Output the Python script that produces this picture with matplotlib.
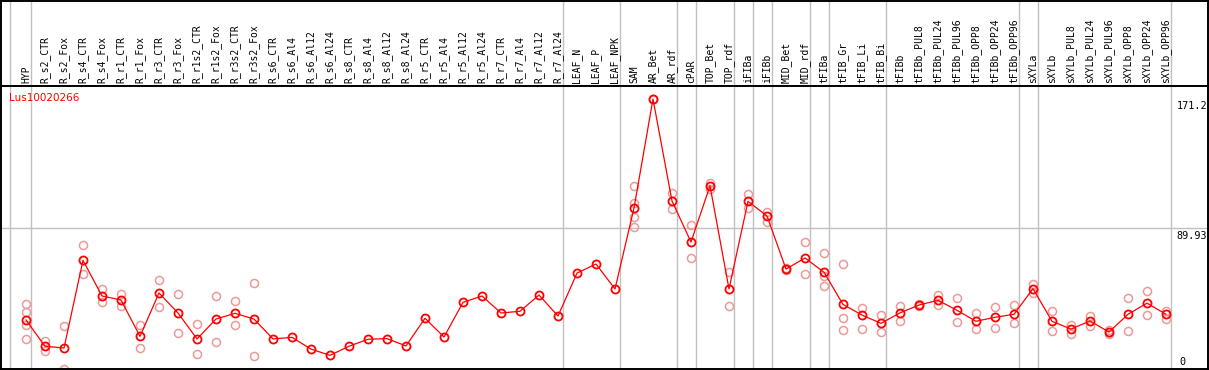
import numpy as np
import matplotlib
matplotlib.use('Agg')
import matplotlib.pyplot as plt

# noms des colonnes (echantillons)
samples = ['HYP', 'R_s2_CTR', 'R_s2_Fox', 'R_s4_CTR', 'R_s4_Fox', 'R_r1_CTR', 'R_r1_Fox',
           'R_r3_CTR', 'R_r3_Fox', 'R_r1s2_CTR', 'R_r1s2_Fox', 'R_r3s2_CTR', 'R_r3s2_Fox',
           'R_s6_CTR', 'R_s6_Al4', 'R_s6_Al12', 'R_s6_Al24', 'R_s8_CTR', 'R_s8_Al4',
           'R_s8_Al12', 'R_s8_Al24', 'R_r5_CTR', 'R_r5_Al4', 'R_r5_Al12', 'R_r5_Al24',
           'R_r7_CTR', 'R_r7_Al4', 'R_r7_Al12', 'R_r7_Al24', 'LEAF_N', 'LEAF_P', 'LEAF_NPK',
           'SAM', 'AR_Bet', 'AR_rdf', 'cPAR', 'TOP_Bet', 'TOP_rdf', 'iFIBa', 'iFIBb',
           'MID_Bet', 'MID_rdf', 'tFIBa', 'tFIB_Gr', 'tFIB_Li', 'tFIB_Bi', 'tFIBb',
           'tFIBb_PUL8', 'tFIBb_PUL24', 'tFIBb_PUL96', 'tFIBb_OPP8', 'tFIBb_OPP24',
           'tFIBb_OPP96', 'sXYLa', 'sXYLb', 'sXYLb_PUL8', 'sXYLb_PUL24', 'sXYLb_PUL96',
           'sXYLb_OPP8', 'sXYLb_OPP24', 'sXYLb_OPP96']

# moyenne par echantillon
mean_vals = [32.3, 15.8, 14.7, 69.8, 47.4, 44.9, 22.0, 49.3, 36.7, 20.4, 32.9, 36.5, 32.9,
             20.4, 21.4, 14.0, 10.1, 15.8, 20.2, 20.6, 16.0, 33.4, 21.6, 43.4, 47.4,
             36.7, 37.8, 48.0, 34.8, 61.8, 67.5, 51.8,
             102.7, 171.2, 107.1, 81.3, 116.7, 51.8, 106.9, 97.7,
             64.3, 71.3, 62.3, 42.1, 35.4, 30.2, 36.8,
             41.7, 44.7, 38.4, 31.5, 34.0, 35.9, 52.0, 31.5,
             26.6, 31.7, 24.7, 35.9, 42.9, 35.9]

# replicats (indice de colonne, valeur)
rep_idx = [0, 0, 0, 0, 1, 1, 2, 2, 3, 3, 4, 4, 5, 5, 6, 6, 7, 7, 8, 8, 9, 9, 10, 10,
           11, 11, 12, 12,
           32, 32, 32, 32, 33, 34, 34, 35, 35, 36, 36, 37, 37, 38, 38, 39, 39,
           40, 40, 41, 41, 42, 42, 42, 43, 43, 43, 44, 44, 45, 45, 46, 46,
           47, 47, 48, 48, 49, 49, 50, 50, 51, 51, 52, 52, 53, 53, 54, 54,
           55, 55, 56, 56, 57, 57, 58, 58, 59, 59, 60, 60]
rep_vals = [42.3, 37.1, 29.2, 20.4, 19.1, 12.6, 28.3, 1.5, 79.4, 61.2, 51.8, 43.4,
            48.6, 40.9, 28.9, 14.7, 57.2, 40.3, 48.6, 24.1, 29.6, 10.7, 47.2, 18.5,
            44.2, 28.9, 55.5, 9.7,
            116.3, 105.8, 97.2, 90.6, 171.0, 112.1, 101.9, 91.8, 71.1, 118.6, 114.4,
            62.7, 40.9, 111.5, 102.7, 100.2, 94.1,
            64.8, 63.8, 81.3, 61.0, 74.4, 60.1, 53.5, 67.3, 33.4, 25.8, 39.8, 26.6,
            35.4, 24.9, 41.4, 31.6,
            42.2, 41.2, 47.8, 41.5, 45.9, 30.8, 36.7, 26.8, 40.3, 27.5, 41.5, 30.2,
            54.9, 49.1, 37.9, 25.4,
            29.3, 23.7, 35.0, 28.5, 26.0, 23.3, 45.9, 25.6, 50.3, 35.2, 37.9, 32.9]

# fin de chaque groupe (trait gris vertical)
group_ends = [0, 28, 31, 34, 35, 37, 38, 39, 41, 42, 45, 52, 53, 60]
y_top = 171.2
y_mid = 89.93
gene = 'Lus10020266'

W, H = 1209, 370
fig = plt.figure(figsize=(W / 100, H / 100), dpi=100)
ax_h = fig.add_axes([1 / W, 284 / H, 1207 / W, 85.5 / H])
ax = fig.add_axes([1 / W, 1 / H, 1207 / W, 283 / H])

x = np.arange(len(samples))
xlim = (-25 / 19, 1182 / 19)
grey = '#c0c0c0'

for a in (ax, ax_h):
    a.set_xlim(*xlim)
    a.set_xticks([])
    a.set_yticks([])
    for s in a.spines.values():
        s.set_color('black')
        s.set_linewidth(1.4)
    a.axvline(-0.84, color=grey, lw=1.0, zorder=0)
    for g in group_ends:
        a.axvline(g + 0.25, color=grey, lw=1.0, zorder=0)

ax.set_ylim(1.5, 179.4)
ax_h.set_ylim(0, 1)

ax.axhline(y_mid, color=grey, lw=1.0, zorder=0)

# replicats
ax.plot(rep_idx, rep_vals, 'o', ms=5.8, mfc='none', mec='#ee9898', mew=1.1,
        clip_on=False, zorder=2)
# moyenne
ax.plot(x, mean_vals, '-', color='#ff0000', lw=0.9, zorder=3)
ax.plot(x, mean_vals, 'o', ms=5.8, mfc='none', mec='#ff0000', mew=1.3, zorder=4)

# etiquettes verticales
for i, lab in enumerate(samples):
    ax_h.text(i, 0.03, lab, rotation=90, ha='center', va='bottom',
              family='DejaVu Sans Mono', fontsize=7.0)

ax.text(8 / 1207, 0.975, gene, transform=ax.transAxes, color='#ff0000',
        ha='left', va='top', fontsize=7.5)

ax.text(60.55, y_top - 1.5, '171.2', ha='left', va='top',
        family='DejaVu Sans Mono', fontsize=7.3)
ax.text(60.55, y_mid - 1.5, '89.93', ha='left', va='top',
        family='DejaVu Sans Mono', fontsize=7.3)
ax.text(60.7, 3.0, '0', ha='left', va='bottom',
        family='DejaVu Sans Mono', fontsize=7.3)

fig.savefig('out.png', dpi=100)
